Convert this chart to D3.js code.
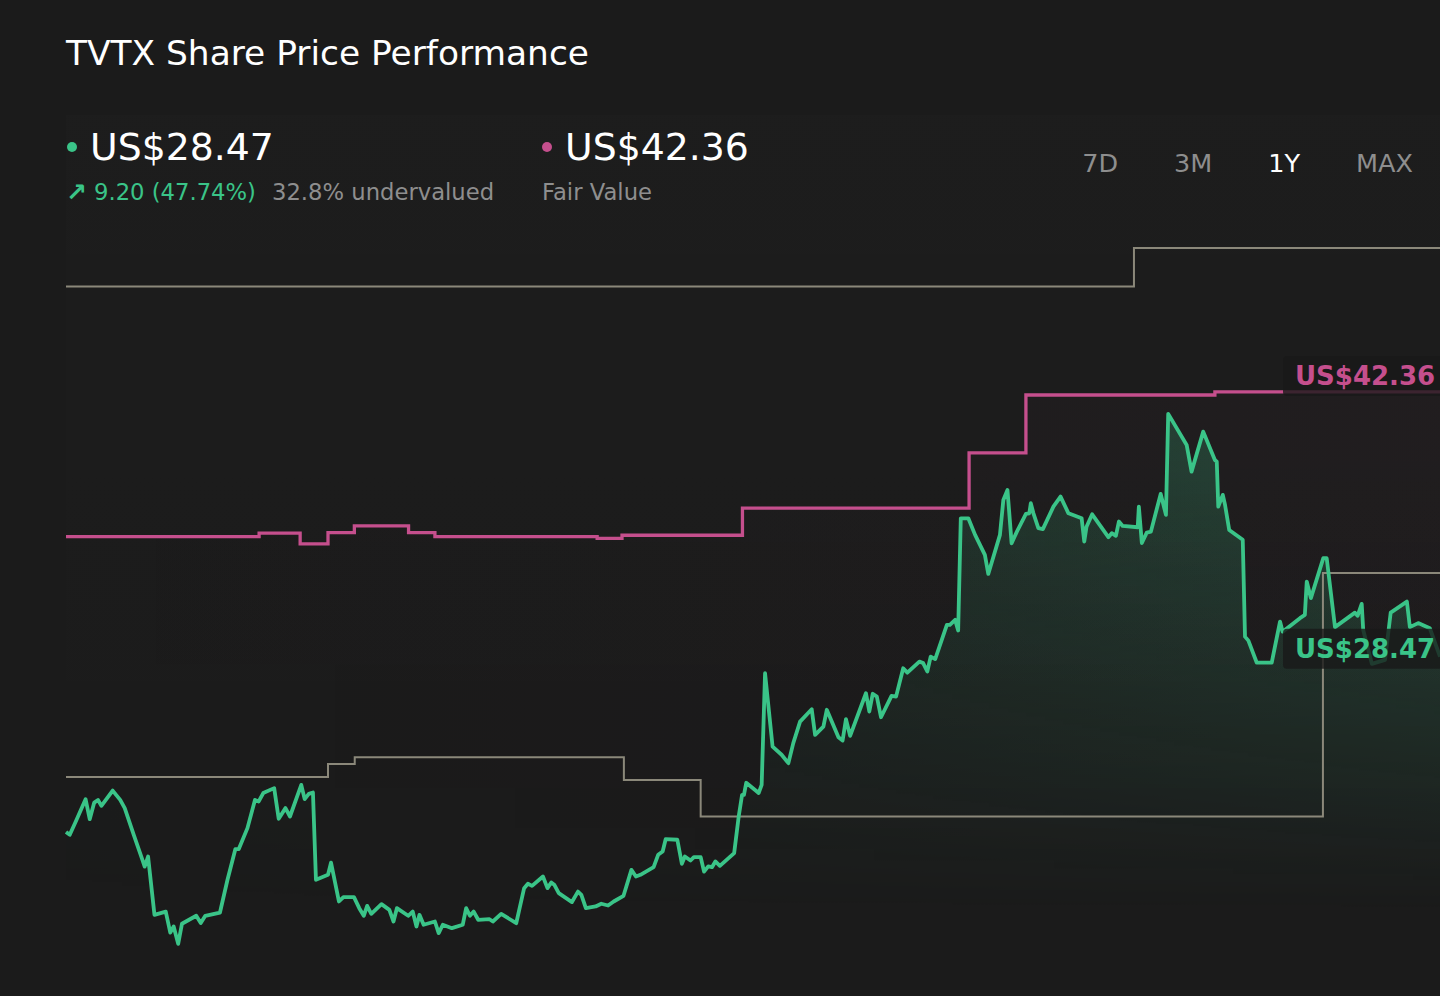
<!DOCTYPE html>
<html>
<head>
<meta charset="utf-8">
<script src="https://cdn.jsdelivr.net/npm/d3@7"></script>
<style>
  html, body { margin: 0; padding: 0; background: #1b1b1b; }
  svg { display: block; font-family: "DejaVu Sans", sans-serif; }
</style>
</head>
<body>
<div id="chart"></div>
<script>
// TVTX one-year share price vs fair value (days since start of window)
const priceDays = [0,1.0,2.6,5.2,6.3,7.5,8.5,9.4,12.4,14.4,15.6,18.0,20.3,20.9,21.8,23.5,26.5,27.7,28.6,29.8,30.8,34.6,35.8,37.0,40.9,42.9,45.0,45.9,48.2,50.2,51.2,52.4,55.3,56.5,58.3,59.5,62.5,63.4,64.5,65.6,66.4,69.6,70.4,72.5,73.7,76.5,77.9,79.1,80.0,81.1,83.8,85.9,87.0,87.9,90.9,92.1,93.1,93.9,95.0,98.0,99.0,100.1,102.5,105.4,106.3,107.3,108.3,109.5,112.5,113.4,115.6,119.6,121.7,122.7,123.8,126.7,127.9,128.9,129.7,130.9,134.4,136.0,136.9,138.1,140.7,142.2,144.0,145.5,148.1,150.2,151.4,152.6,156.1,157.3,158.5,159.3,162.4,163.6,164.4,165.9,166.8,168.6,169.5,170.6,171.6,172.5,173.7,177.5,178.7,179.6,180.1,180.7,183.3,184.0,184.8,185.7,187.7,190.1,191.9,193.2,195.0,198.1,199.0,201.2,202.1,205.2,206.3,207.2,208.3,212.5,213.4,214.3,215.4,216.5,219.3,220.5,222.4,223.5,226.7,227.7,228.8,229.7,230.9,234.0,234.8,236.2,237.0,237.7,239.7,241.5,244.1,245.0,248.1,249.0,250.1,251.2,252.6,255.0,255.9,256.3,257.0,258.3,259.5,262.3,264.2,266.3,269.8,270.5,271.1,272.6,276.9,277.8,278.9,279.7,280.7,284.7,285.0,285.8,287.1,288.2,290.8,292.2,292.8,297.7,299.0,302.1,305.2,305.7,306.1,307.3,307.9,309.0,312.6,313.2,314.1,316.3,320.3,322.5,323.2,327.8,329.1,329.6,330.7,334.0,334.9,337.1,342.4,343.1,344.2,344.6,346.9,350.4,351.9,356.2,357.0,359.2,362.3,365];
const priceValues = [19.27,19.12,19.82,20.99,19.94,20.81,20.95,20.64,21.44,20.95,20.52,19.12,17.81,17.45,17.98,14.92,15.09,13.99,14.31,13.40,14.45,14.87,14.49,14.87,15.04,16.76,18.37,18.37,19.47,20.95,20.87,21.31,21.57,19.96,20.52,20.08,21.74,20.99,21.27,21.34,16.76,17.02,17.66,15.62,15.85,15.85,15.27,14.87,15.39,14.97,15.48,15.18,14.57,15.27,14.87,15.09,14.31,14.92,14.40,14.57,13.96,14.40,14.22,14.40,15.27,14.87,15.09,14.66,14.69,14.57,14.97,14.48,16.32,16.55,16.44,16.93,16.32,16.62,16.50,16.06,15.59,16.14,15.97,15.27,15.36,15.50,15.41,15.62,15.92,17.28,16.93,17.02,17.42,18.07,18.24,18.89,18.86,17.60,17.98,17.77,17.95,17.95,17.19,17.46,17.42,17.72,17.49,18.16,20.08,21.22,21.22,21.85,21.43,21.31,21.74,27.60,23.75,23.32,22.88,23.93,25.06,25.71,24.36,24.80,25.68,24.24,24.07,25.19,24.31,26.55,25.59,26.52,26.37,25.29,26.41,26.37,27.86,27.63,28.21,28.13,27.69,28.47,28.34,30.14,30.14,30.40,29.84,35.73,35.73,34.86,33.81,32.81,34.86,36.69,37.22,34.42,35.03,35.96,35.99,36.52,35.99,35.21,35.16,36.34,36.87,35.99,35.73,34.51,35.29,35.94,34.74,34.95,34.81,35.56,35.33,35.26,36.34,34.43,34.98,35.03,37.01,35.91,41.21,39.58,38.18,40.28,38.79,38.70,36.34,36.96,36.43,35.12,34.60,29.52,29.31,28.16,28.16,30.31,29.78,30.49,30.66,32.41,31.54,33.64,33.64,30.02,30.78,30.61,31.24,29.87,28.09,28.30,30.78,31.36,30.02,30.23,29.96,28.47];

// fair value estimate, step changes
const fairDays = [0,51.3,62.2,69.6,76.6,91.0,98.0,141.1,147.7,179.7,239.9,255.0,305.2,365];
const fairValues = [34.77,34.95,34.39,34.98,35.33,34.98,34.77,34.68,34.84,36.26,39.16,42.20,42.36,42.36];

// grey reference step lines (upper and lower)
const upperDays = [0,283.7,365];
const upperValues = [47.89,49.92,49.92];
const lowerDays = [0,69.6,76.7,148.2,168.6,333.9,365];
const lowerValues = [22.15,22.83,23.19,22.00,20.08,32.86,32.86];

const lastPrice = 28.47;
const fairValue = 42.36;
const rangeLabels = ['7D', '3M', '1Y', 'MAX'];
const activeRange = '1Y';

const W = 1440, H = 996;
const green = '#3ac488', pink = '#c54f8d', grey = '#8b887a';

const svg = d3.select('#chart').append('svg').attr('width', W).attr('height', H);
const defs = svg.append('defs');

const x = d3.scaleLinear().domain([0, 365]).range([66, 1440]);
const y = d3.scaleLinear().domain([10.66, 50.86]).range([996, 230]);

const price = d3.zip(priceDays, priceValues);
const fair = d3.zip(fairDays, fairValues);
const upper = d3.zip(upperDays, upperValues);
const lower = d3.zip(lowerDays, lowerValues);

// gradients
const plotBg = defs.append('linearGradient').attr('id', 'plotBg').attr('x1', 0).attr('x2', 0).attr('y1', 0).attr('y2', 1);
plotBg.append('stop').attr('offset', '0%').attr('stop-color', '#fff').attr('stop-opacity', 0.008);
plotBg.append('stop').attr('offset', '100%').attr('stop-color', '#fff').attr('stop-opacity', 0);

const greenFill = defs.append('linearGradient').attr('id', 'greenFill')
  .attr('gradientUnits', 'userSpaceOnUse').attr('x1', 66).attr('x2', 1440).attr('y1', 0).attr('y2', 0);
greenFill.append('stop').attr('offset', '0%').attr('stop-color', green).attr('stop-opacity', 0.03);
greenFill.append('stop').attr('offset', '45%').attr('stop-color', green).attr('stop-opacity', 0.11);
greenFill.append('stop').attr('offset', '100%').attr('stop-color', green).attr('stop-opacity', 0.27);

const fade = defs.append('linearGradient').attr('id', 'fade')
  .attr('gradientUnits', 'userSpaceOnUse').attr('x1', 0).attr('x2', 0).attr('y1', 420).attr('y2', 910);
fade.append('stop').attr('offset', '0%').attr('stop-color', '#fff').attr('stop-opacity', 1);
fade.append('stop').attr('offset', '100%').attr('stop-color', '#fff').attr('stop-opacity', 0);
defs.append('mask').attr('id', 'fadeMask').append('rect')
  .attr('x', 0).attr('y', 0).attr('width', W).attr('height', H).attr('fill', 'url(#fade)');

const pinkFill = defs.append('linearGradient').attr('id', 'pinkFill')
  .attr('gradientUnits', 'userSpaceOnUse').attr('x1', 66).attr('x2', 1440).attr('y1', 0).attr('y2', 0);
pinkFill.append('stop').attr('offset', '0%').attr('stop-color', pink).attr('stop-opacity', 0);
pinkFill.append('stop').attr('offset', '100%').attr('stop-color', pink).attr('stop-opacity', 0.03);

svg.append('rect').attr('x', 66).attr('y', 115).attr('width', W - 66).attr('height', 780).attr('fill', 'url(#plotBg)');

// faint fair-value shading
svg.append('path').datum(fair)
  .attr('fill', 'url(#pinkFill)').attr('mask', 'url(#fadeMask)')
  .attr('d', d3.area().curve(d3.curveStepAfter).x(d => x(d[0])).y0(H).y1(d => y(d[1])));

// price area
svg.append('path').datum(price)
  .attr('fill', 'url(#greenFill)').attr('mask', 'url(#fadeMask)')
  .attr('d', d3.area().x(d => x(d[0])).y0(H).y1(d => y(d[1])));

const stepLine = d3.line().curve(d3.curveStepAfter).x(d => x(d[0])).y(d => y(d[1]));

svg.append('path').datum(upper).attr('fill', 'none').attr('stroke', grey).attr('stroke-width', 2).attr('d', stepLine);
svg.append('path').datum(lower).attr('fill', 'none').attr('stroke', grey).attr('stroke-width', 2).attr('d', stepLine);
svg.append('path').datum(fair).attr('fill', 'none').attr('stroke', pink).attr('stroke-width', 3.3).attr('d', stepLine);

svg.append('path').datum(price)
  .attr('fill', 'none').attr('stroke', green).attr('stroke-width', 3.8).attr('stroke-linejoin', 'round')
  .attr('d', d3.line().x(d => x(d[0])).y(d => y(d[1])));

// end labels
function endLabel(v, dy, color) {
  const cy = y(v) + dy;
  svg.append('rect').attr('x', 1283).attr('y', cy - 20).attr('width', 180).attr('height', 40)
    .attr('rx', 4).attr('fill', '#191919').attr('opacity', 0.8);
  svg.append('text').attr('x', 1295).attr('y', cy + 9).attr('fill', color)
    .attr('font-size', 26).attr('font-weight', 'bold').text('US$' + v.toFixed(2));
}
endLabel(fairValue, -16, pink);
endLabel(lastPrice, -8, green);

// header
svg.append('text').attr('x', 66).attr('y', 65).attr('fill', '#fff').attr('font-size', 34.4)
  .text('TVTX Share Price Performance');

const startPrice = priceValues[0];
const change = lastPrice - startPrice;
const pct = change / startPrice * 100;
const under = (fairValue - lastPrice) / fairValue * 100;

svg.append('circle').attr('cx', 72).attr('cy', 147).attr('r', 5).attr('fill', green);
svg.append('text').attr('x', 90).attr('y', 160).attr('fill', '#fff').attr('font-size', 37.8).text('US$' + lastPrice.toFixed(2));
svg.append('text').attr('x', 66).attr('y', 201).attr('fill', green).attr('font-size', 25).attr('font-weight', 'bold').text('\u2197');
svg.append('text').attr('x', 94).attr('y', 200).attr('fill', green).attr('font-size', 22.7)
  .text(`${change.toFixed(2)} (${pct.toFixed(2)}%)`);
svg.append('text').attr('x', 272).attr('y', 200).attr('fill', '#8e8e8e').attr('font-size', 22.7)
  .text(`${under.toFixed(1)}% undervalued`);

svg.append('circle').attr('cx', 547).attr('cy', 147).attr('r', 5).attr('fill', pink);
svg.append('text').attr('x', 565).attr('y', 160).attr('fill', '#fff').attr('font-size', 37.8).text('US$' + fairValue.toFixed(2));
svg.append('text').attr('x', 542).attr('y', 200).attr('fill', '#8e8e8e').attr('font-size', 22.7).text('Fair Value');

// range selector, right aligned with fixed gaps
const rangeText = svg.selectAll('text.range').data(rangeLabels).enter().append('text')
  .attr('class', 'range')
  .attr('y', 172).attr('font-size', 25.5)
  .attr('fill', d => d === activeRange ? '#fff' : '#8e8e8e')
  .text(d => d);
let rx = 1413;
rangeText.nodes().reverse().forEach(n => {
  const w = n.getComputedTextLength();
  rx -= w;
  n.setAttribute('x', rx);
  rx -= 56;
});
</script>
</body>
</html>
